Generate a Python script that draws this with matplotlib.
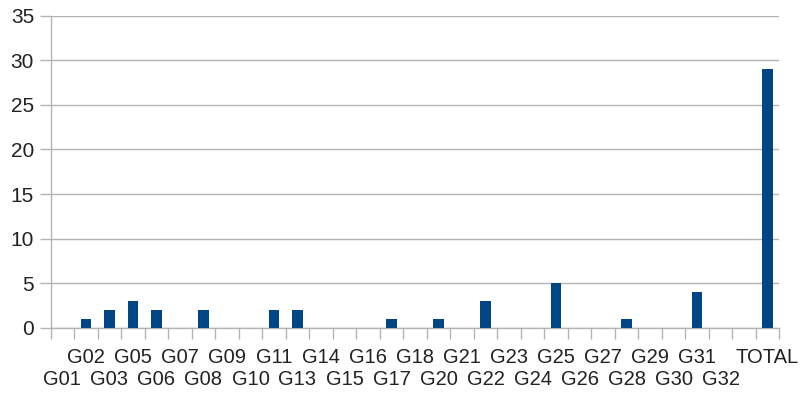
import matplotlib.pyplot as plt
import numpy as np

plt.rcParams['font.family'] = ['Liberation Sans', 'DejaVu Sans']

categories = ['G01', 'G02', 'G03', 'G05', 'G06', 'G07', 'G08', 'G09', 'G10', 'G11',
              'G13', 'G14', 'G15', 'G16', 'G17', 'G18', 'G20', 'G21', 'G22', 'G23',
              'G24', 'G25', 'G26', 'G27', 'G28', 'G29', 'G30', 'G31', 'G32', '', 'TOTAL']
values = [0, 1, 2, 3, 2, 0, 2, 0, 0, 2,
          2, 0, 0, 0, 1, 0, 1, 0, 3, 0,
          0, 5, 0, 0, 1, 0, 0, 4, 0, 0, 29]

grid_col = '#b3b3b3'
text_col = '#222222'

fig = plt.figure(figsize=(8.03, 3.94), dpi=100)
ax = fig.add_axes([0.0631, 0.1683, 0.9074, 0.7917])

x = np.arange(len(categories))
ax.bar(x, values, width=0.45, color='#004586', zorder=3)

ax.set_xlim(-0.5, len(categories) - 0.5)
ax.set_ylim(0, 35)
ax.set_yticks(range(0, 36, 5))

# ticks sit between categories, labels are drawn staggered in two rows
ax.set_xticks(np.arange(-0.5, len(categories)))
ax.set_xticklabels([])
for i, lab in enumerate(categories):
    lower = (i % 2 == 0 and lab != 'TOTAL')
    ax.annotate(lab, xy=(i, 0), xycoords=('data', 'axes fraction'),
                xytext=(0, -37.5 if lower else -21.5), textcoords='offset points',
                ha='center', va='center', fontsize=14.5, color=text_col)

ax.tick_params(axis='x', length=8, color=grid_col, width=1)
ax.tick_params(axis='y', length=8, color=grid_col, width=1, pad=4, labelsize=15, labelcolor=text_col)

ax.grid(axis='y', color=grid_col, linewidth=1, zorder=0)
ax.set_axisbelow(True)
for s in ['top', 'right']:
    ax.spines[s].set_visible(False)
for s in ['left', 'bottom']:
    ax.spines[s].set_color(grid_col)
    ax.spines[s].set_linewidth(1)

fig.savefig('out.png', dpi=100)
